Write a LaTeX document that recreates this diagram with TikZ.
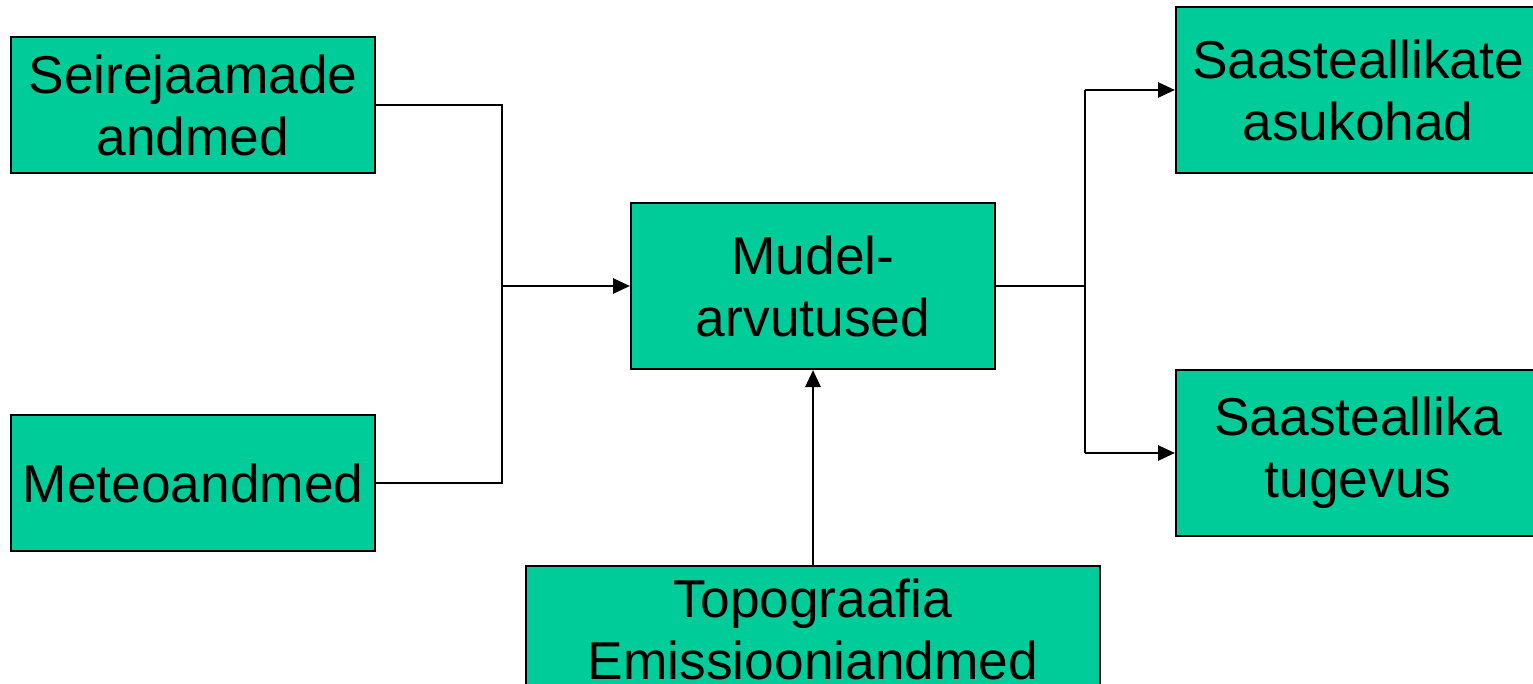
\documentclass[tikz,border=0pt]{standalone}
\usepackage{fontspec}
\setmainfont{Liberation Sans}
\usetikzlibrary{arrows.meta}
\definecolor{boxgreen}{HTML}{00CC99}
\begin{document}
\begin{tikzpicture}[x=1pt,y=-1pt,
  box/.style={draw=black, line width=2pt, fill=boxgreen, align=center, inner sep=0pt,
    font=\fontsize{53.3}{62}\selectfont},
  conn/.style={line width=2.7pt},
  arr/.style={conn, -{Triangle[length=17pt,width=15pt]}}]
\useasboundingbox (0,0) rectangle (1533,684);
\clip (0,0) rectangle (1533,684);
\fill[white] (0,0) rectangle (1533,684);
\node[box, minimum width=364pt, minimum height=136pt] (s) at (193,105) {Seirejaamade\\andmed};
\node[box, minimum width=364pt, minimum height=136pt] (m) at (193,483) {Meteoandmed};
\node[box, minimum width=364pt, minimum height=166pt] (c) at (813,286) {Mudel-\\arvutused};
\node[box, minimum width=364pt, minimum height=166pt] (a) at (1358,90) {Saasteallikate\\asukohad};
\node[box, minimum width=364pt, minimum height=166pt] (t) at (1358,453) {Saasteallika\\tugevus};
\node[box, minimum width=574pt, minimum height=126pt] (e) at (813,629) {Topograafia\\Emissiooniandmed};
\coordinate (jl) at (502,286);
\coordinate (jr) at (1085,286);
\draw[conn] (s.east) -- (s.east -| jl) -- (m.east -| jl) -- (m.east);
\draw[arr] (jl) -- (c.west);
\draw[conn] (c.east) -- (jr);
\draw[conn] (a.west -| jr) -- (t.west -| jr);
\draw[arr] (a.west -| jr) -- (a.west);
\draw[arr] (t.west -| jr) -- (t.west);
\draw[arr] (e.north) -- (c.south);
\end{tikzpicture}
\end{document}
